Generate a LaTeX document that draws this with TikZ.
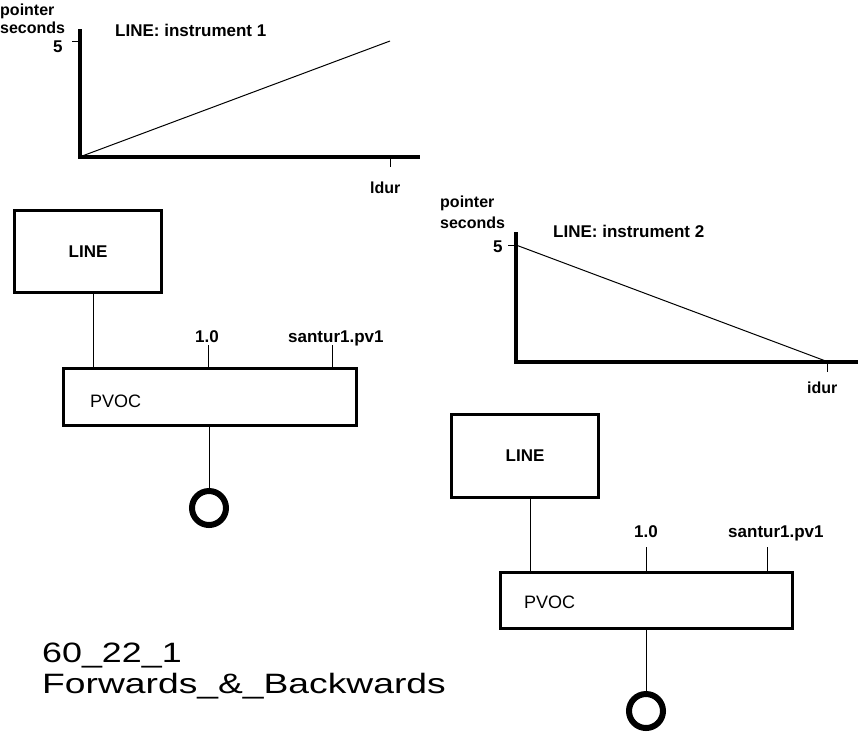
\documentclass[tikz,border=0pt]{standalone}
\usepackage{fontspec}
\setmainfont{Liberation Sans}
\begin{document}
\begin{tikzpicture}[x=1pt,y=-1pt,
  lab/.style={inner sep=0pt, anchor=base west, font=\bfseries\fontsize{16}{16}\selectfont},
  ttl/.style={inner sep=0pt, anchor=base west, font=\bfseries\fontsize{17}{17}\selectfont},
  reg/.style={inner sep=0pt, anchor=base west, font=\fontsize{18}{18}\selectfont},
  big/.style={inner sep=0pt, anchor=base west, font=\fontsize{28}{28}\selectfont},
  axis/.style={line width=4pt, line join=miter},
  thin/.style={line width=1pt},
  box/.style={draw, line width=3pt, rectangle, inner sep=0pt},
  outc/.style={draw, circle, line width=6pt, minimum size=34pt, inner sep=0pt}
]
\useasboundingbox (0,0) rectangle (858,732);

% ---- graph 1
\coordinate (o1) at (79.5,157);
\coordinate (top1) at (79.5,29);
\coordinate (end1) at (420,157);
\coordinate (p5a) at (79.5,41);
\coordinate (t5a) at (72,41);
\coordinate (pe1) at (390,41);
\coordinate (dt1) at (390,159);
\coordinate (db1) at (390,167);
\draw[axis] (top1) -- (o1) -- (end1);
\draw[thin] (t5a) -- (p5a);
\draw[thin] (o1) -- (pe1);
\draw[thin] (dt1) -- (db1);
\node[lab] (ptr1) at (0,15) {pointer};
\node[lab] (sec1) at (0,33) {seconds};
\node[ttl] (five1) at (53,52) {5};
\node[ttl] (tit1) at (115,36) {LINE: instrument 1};
\node[lab] (dur1) at (370,193) {ldur};

% ---- graph 2
\coordinate (o2) at (516,361.5);
\coordinate (top2) at (516,232);
\coordinate (end2) at (860,361.5);
\coordinate (p5b) at (516,245);
\coordinate (t5b) at (508,245);
\coordinate (pe2) at (827,361.5);
\coordinate (dt2) at (827,363);
\coordinate (db2) at (827,372);
\draw[axis] (top2) -- (o2) -- (end2);
\draw[thin] (t5b) -- (p5b);
\draw[thin] (p5b) -- (pe2);
\draw[thin] (dt2) -- (db2);
\node[lab] (ptr2) at (440,207) {pointer};
\node[lab] (sec2) at (440,228) {seconds};
\node[ttl] (five2) at (493,252) {5};
\node[ttl] (tit2) at (553,237) {LINE: instrument 2};
\node[lab] (dur2) at (807,393) {idur};

% ---- patch 1
\node[box, minimum width=147pt, minimum height=82pt, font=\bfseries\fontsize{17}{17}\selectfont] (line1) at (88,251.5) {LINE};
\node[box, minimum width=293pt, minimum height=57pt] (pvoc1) at (210,397) {};
\node[reg] (pv1t) at (90,407) {PVOC};
\node[ttl] (one1) at (195,342) {1.0};
\node[ttl] (snt1) at (288,342) {santur1.pv1};
\coordinate (a1) at (93,368);
\coordinate (b1) at (208,368);
\coordinate (c1) at (332,368);
\draw[thin] (line1.south -| a1) -- (a1);
\draw[thin] (b1 |- 0,345) -- (b1);
\draw[thin] (c1 |- 0,345) -- (c1);
\node[outc] (out1) at (209,508) {};
\draw[thin] (pvoc1.south -| out1) -- (out1.north);

% ---- patch 2
\node[box, minimum width=147pt, minimum height=83pt, font=\bfseries\fontsize{17}{17}\selectfont] (line2) at (525,456) {LINE};
\node[box, minimum width=292pt, minimum height=56pt] (pvoc2) at (646.5,600.5) {};
\node[reg] (pv2t) at (524,608) {PVOC};
\node[ttl] (one2) at (634,537) {1.0};
\node[ttl] (snt2) at (728,537) {santur1.pv1};
\coordinate (a2) at (530,572);
\coordinate (b2) at (646,572);
\coordinate (c2) at (767,572);
\draw[thin] (line2.south -| a2) -- (a2);
\draw[thin] (b2 |- 0,547) -- (b2);
\draw[thin] (c2 |- 0,547) -- (c2);
\node[outc] (out2) at (646,711) {};
\draw[thin] (pvoc2.south -| out2) -- (out2.north);

% ---- caption
\node[big] (cap1) at (42,662) {\scalebox{1.28}[1]{60\_22\_1}};
\node[big] (cap2) at (42,693) {\scalebox{1.33}[1]{Forwards\_\&\_Backwards}};
\end{tikzpicture}
\end{document}
